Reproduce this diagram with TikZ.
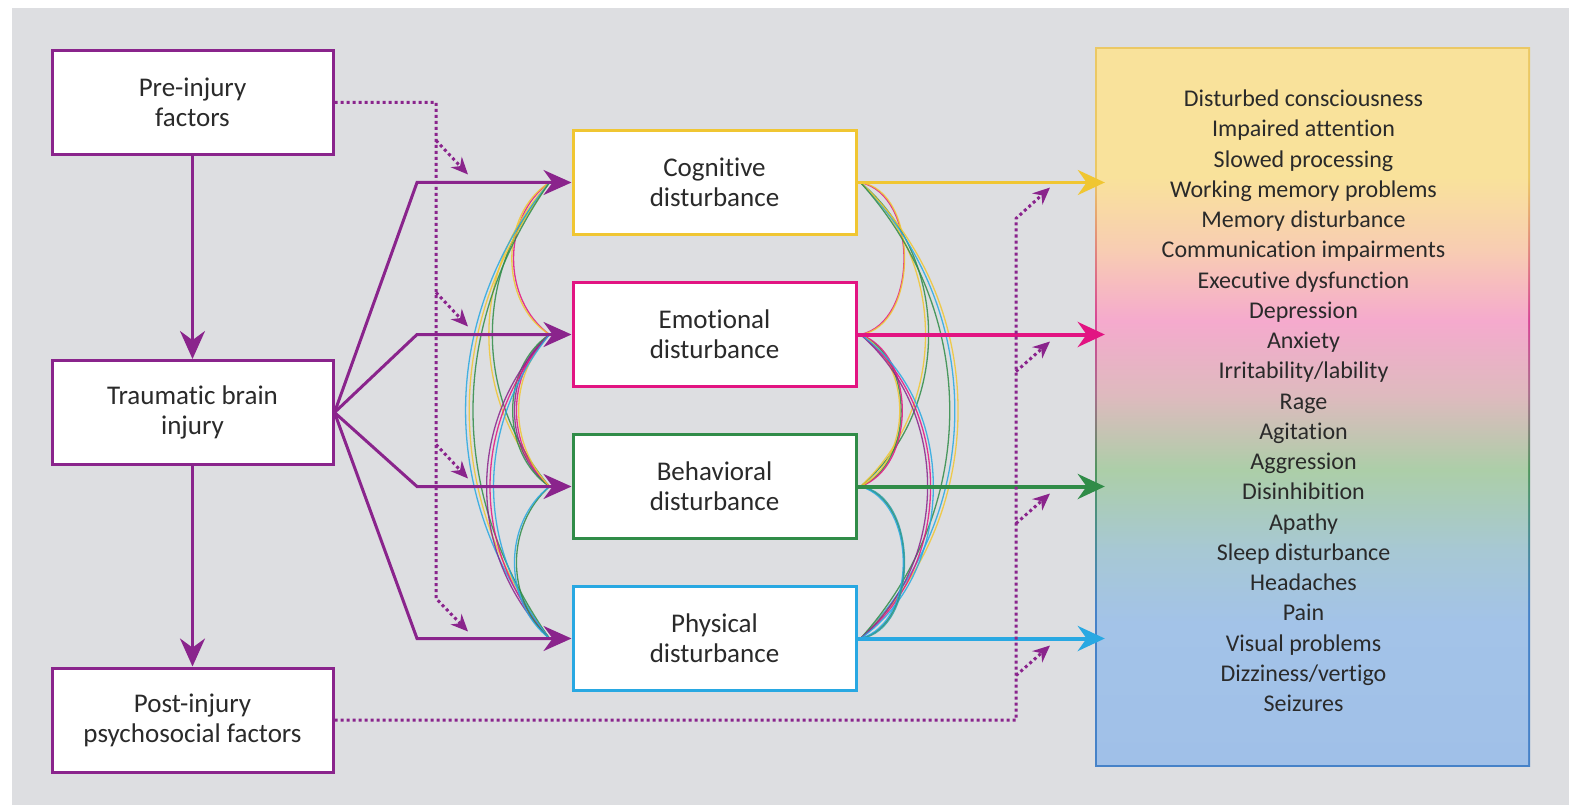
\documentclass[tikz,border=0pt]{standalone}
\usepackage{fontspec}
\setmainfont{Carlito}[Ligatures=NoCommon]
\usepackage{tikz}
\usetikzlibrary{positioning,arrows.meta,calc}
\usepackage{xcolor}

\definecolor{cogcol}{RGB}{240,198,50}
\definecolor{emocol}{RGB}{226,20,130}
\definecolor{behcol}{RGB}{48,140,72}
\definecolor{phycol}{RGB}{40,168,226}
\definecolor{tbicol}{RGB}{138,36,140}
\definecolor{panel}{RGB}{221,222,225}
\definecolor{ink}{RGB}{42,42,42}

\definecolor{syA}{RGB}{160,192,232}
\definecolor{syB}{RGB}{163,195,232}
\definecolor{syC}{RGB}{167,200,212}
\definecolor{syD}{RGB}{172,206,168}
\definecolor{syE}{RGB}{222,186,190}
\definecolor{syF}{RGB}{245,170,205}
\definecolor{syG}{RGB}{248,205,178}
\definecolor{syH}{RGB}{249,226,155}
\definecolor{edA}{RGB}{70,130,200}
\definecolor{edD}{RGB}{80,150,95}
\definecolor{edE}{RGB}{170,110,140}
\definecolor{edF}{RGB}{215,70,150}
\definecolor{edH}{RGB}{235,200,100}

\pgfdeclareverticalshading{symptoms}{100bp}{color(0bp)=(syA); color(25bp)=(syA);
  color(35bp)=(syB); color(40bp)=(syC); color(45.6bp)=(syD); color(50.8bp)=(syE);
  color(56bp)=(syF); color(61bp)=(syG); color(66bp)=(syH); color(75bp)=(syH); color(100bp)=(syH)}
\pgfdeclareverticalshading{symptomsedge}{100bp}{color(0bp)=(edA); color(25bp)=(edA);
  color(36bp)=(edA); color(45.6bp)=(edD); color(51bp)=(edE);
  color(56bp)=(edF); color(66bp)=(edH); color(75bp)=(edH); color(100bp)=(edH)}

\begin{document}
\begin{tikzpicture}[
x=1pt, y=-1pt,
node distance=45pt,
every node/.style={text=ink, font=\fontsize{27}{30}\selectfont, align=center},
factor/.style={draw=tbicol, line width=3pt, fill=white, minimum width=281pt, minimum height=104pt},
disturb/.style={draw=#1, line width=3pt, fill=white, minimum width=283pt, minimum height=104pt},
link/.style={-{Stealth[length=28pt,width=25pt]}, tbicol, line width=3pt},
hint/.style={-{Stealth[length=17pt,width=15pt]}, tbicol, line width=3pt, dash pattern=on 3pt off 3pt},
effect/.style={-{Stealth[length=27pt,width=25pt]}, line width=4pt, shorten >=-10pt},
strand/.style={line width=1.3pt, opacity=0.85}
]

\useasboundingbox (0,0) rectangle (1569,805);
\fill[panel] (12,8) rectangle (1569,805);

% left column
\node[factor] (pre) at (192.5,102.5) {Pre-injury\\factors};
\node[factor] (tbi) at (192.5,412.5) {Traumatic brain\\injury};
\node[factor] (post) at (192.5,720) {Post-injury\\psychosocial factors};

% middle column
\node[disturb=cogcol] (cog) at (714.5,182.5) {Cognitive\\disturbance};
\node[disturb=emocol, below=of cog] (emo) {Emotional\\disturbance};
\node[disturb=behcol, below=of emo] (beh) {Behavioral\\disturbance};
\node[disturb=phycol, below=of beh] (phy) {Physical\\disturbance};

% symptom list
\node[shading=symptomsedge, minimum width=435pt, minimum height=718pt,
  path picture={\shade[shading=symptoms] ([shift={(2pt,2pt)}]path picture bounding box.south west)
    rectangle ([shift={(-2pt,-2pt)}]path picture bounding box.north east);}] (list) at (1312.5,407) {};
\node[font=\fontsize{24}{30.25}\selectfont] (items) at ($(list)+(-9,-6)$) {Disturbed consciousness\\
Impaired attention\\
Slowed processing\\
Working memory problems\\
Memory disturbance\\
Communication impairments\\
Executive dysfunction\\
Depression\\
Anxiety\\
Irritability/lability\\
Rage\\
Agitation\\
Aggression\\
Disinhibition\\
Apathy\\
Sleep disturbance\\
Headaches\\
Pain\\
Visual problems\\
Dizziness/vertigo\\
Seizures};

% links between the disturbances, left side
\foreach \s/\t/\a/\c in {cog/emo/54/emocol, cog/emo/58/cogcol,
  cog/beh/40/behcol, cog/beh/43/cogcol,
  cog/phy/37/cogcol, cog/phy/39/phycol, cog/phy/35/behcol,
  emo/beh/48/emocol, emo/beh/52/tbicol, emo/beh/56/behcol, emo/beh/44/cogcol,
  emo/phy/42/emocol, emo/phy/45/tbicol, emo/phy/39/phycol,
  beh/phy/48/behcol, beh/phy/52/phycol}
  \draw[strand,\c] ([xshift=-22pt]\s.west) to[bend right=\a] ([xshift=-22pt]\t.west);

% links between the disturbances, right side
\foreach \s/\t/\a/\c in {cog/emo/78/emocol, cog/emo/82/cogcol,
  cog/beh/50/behcol, cog/beh/47/cogcol,
  cog/phy/45/phycol, cog/phy/47/cogcol, cog/phy/42/behcol,
  emo/beh/66/behcol, emo/beh/70/emocol, emo/beh/62/cogcol,
  emo/phy/52/emocol, emo/phy/49/tbicol, emo/phy/55/phycol,
  beh/phy/78/behcol, beh/phy/74/phycol, beh/phy/82/phycol!60!behcol}
  \draw[strand,\c] ([xshift=3pt]\s.east) to[bend left=\a] ([xshift=3pt]\t.east);

% main flow
\draw[link] (pre) -- (tbi);
\draw[link] (tbi) -- (post);
\coordinate (fan) at (417,0);
\foreach \n in {cog,emo,beh,phy}
  \draw[link] (tbi.east) -- (\n.west -| fan) -- (\n.west);

% effects
\draw[effect,cogcol,line width=3pt] (cog.east) -- (cog.east -| list.west);
\draw[effect,emocol] (emo.east) -- (emo.east -| list.west);
\draw[effect,behcol] (beh.east) -- (beh.east -| list.west);
\draw[effect,phycol] (phy.east) -- (phy.east -| list.west);

% pre-injury influences
\coordinate (pretrunk) at (436,0);
\draw[hint] (pre.east) -| ($(phy.west -| pretrunk)+(0,-40)$) -- ++(32,33);
\foreach \n in {cog,emo,beh}
  \draw[hint] ($(\n.west -| pretrunk)+(0,-42)$) -- ++(32,34);

% post-injury influences
\coordinate (posttrunk) at (1016,0);
\draw[hint] (post.east) -| ($(cog.east -| posttrunk)+(0,36)$) -- ++(34,-31);
\foreach \n in {emo,beh,phy}
  \draw[hint] ($(\n.east -| posttrunk)+(0,37)$) -- ++(34,-30);

\end{tikzpicture}
\end{document}
